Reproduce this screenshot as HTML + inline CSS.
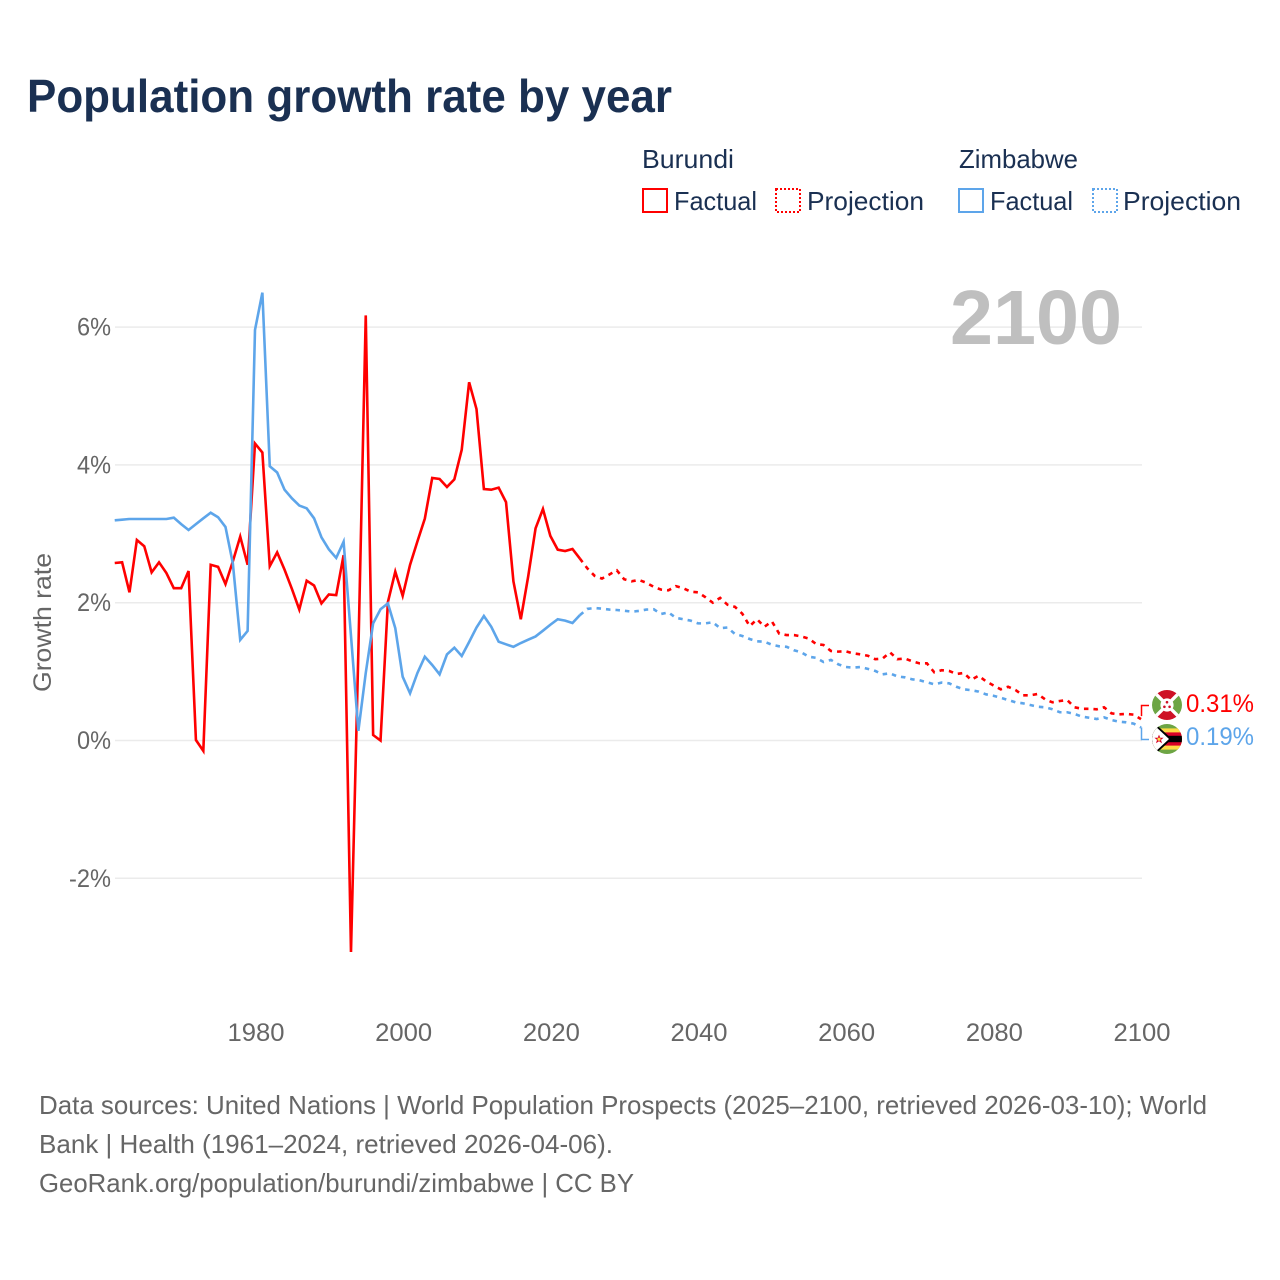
<!DOCTYPE html>
<html lang="en">
<head>
<meta charset="utf-8">
<title>Population growth rate by year</title>
<style>
html,body{margin:0;padding:0;background:#fff;}
svg{display:block;font-family:"Liberation Sans",sans-serif;}
</style>
</head>
<body>
<svg id="chart" xmlns="http://www.w3.org/2000/svg" width="1280" height="1280" viewBox="0 0 1280 1280">
  <rect width="1280" height="1280" fill="#fff"/>
  <text x="27" y="112" font-size="46" font-weight="700" fill="#1a3052" textLength="645" lengthAdjust="spacingAndGlyphs">Population growth rate by year</text>

  <g font-size="26" fill="#1a3052">
    <text x="642" y="168" textLength="92" lengthAdjust="spacingAndGlyphs">Burundi</text>
    <rect x="643" y="189" width="24" height="23" fill="none" stroke="#ff0000" stroke-width="2"/>
    <text x="674" y="210" textLength="83" lengthAdjust="spacingAndGlyphs">Factual</text>
    <rect x="776" y="189" width="24" height="23" fill="none" stroke="#ff0000" stroke-width="2" stroke-dasharray="2 2"/>
    <text x="807" y="210" textLength="117" lengthAdjust="spacingAndGlyphs">Projection</text>
    <text x="959" y="168" textLength="119" lengthAdjust="spacingAndGlyphs">Zimbabwe</text>
    <rect x="959" y="189" width="24" height="23" fill="none" stroke="#5da5ea" stroke-width="2"/>
    <text x="990" y="210" textLength="83" lengthAdjust="spacingAndGlyphs">Factual</text>
    <rect x="1093" y="189" width="24" height="23" fill="none" stroke="#5da5ea" stroke-width="2" stroke-dasharray="2 2"/>
    <text x="1123" y="210" textLength="118" lengthAdjust="spacingAndGlyphs">Projection</text>
  </g>

  <g id="grid"></g>
  <g id="ytick-labels" font-size="25" fill="#666"></g>
  <g id="xtick-labels" font-size="25" fill="#666"></g>
  <text transform="translate(51,692) rotate(-90)" font-size="25" fill="#666" textLength="139" lengthAdjust="spacingAndGlyphs">Growth rate</text>
  <text x="1122" y="344" text-anchor="end" font-size="77" font-weight="700" fill="#bfbfbf" textLength="172" lengthAdjust="spacingAndGlyphs">2100</text>

  <g id="series" fill="none" stroke-width="2.6"></g>

  <g id="connectors" fill="none" stroke-width="1.5"></g>

  <g transform="translate(1167,705)">
    <circle r="15" fill="#fff"/>
    <path d="M-10.6,-10.6 A15,15 0 0 1 10.6,-10.6 L0,0 Z" fill="#ce1126"/>
    <path d="M-10.6,10.6 A15,15 0 0 0 10.6,10.6 L0,0 Z" fill="#ce1126"/>
    <path d="M-10.6,-10.6 A15,15 0 0 0 -10.6,10.6 L0,0 Z" fill="#6da544"/>
    <path d="M10.6,-10.6 A15,15 0 0 1 10.6,10.6 L0,0 Z" fill="#6da544"/>
    <path d="M-10.6,-10.6 L10.6,10.6 M10.6,-10.6 L-10.6,10.6" stroke="#fff" stroke-width="3.4"/>
    <circle r="6.6" fill="#fff"/>
    <circle cx="0" cy="-2.8" r="1.3" fill="#ce1126"/>
    <circle cx="-2.6" cy="1.8" r="1.3" fill="#ce1126"/>
    <circle cx="2.6" cy="1.8" r="1.3" fill="#ce1126"/>
  </g>
  <g transform="translate(1167,739)">
    <clipPath id="zw-clip"><circle r="15"/></clipPath>
    <g clip-path="url(#zw-clip)">
      <rect x="-15" y="-15" width="30" height="30" fill="#6da544"/>
      <rect x="-15" y="-10.6" width="30" height="21.2" fill="#ffda44"/>
      <rect x="-15" y="-6.6" width="30" height="13.2" fill="#d80027"/>
      <rect x="-15" y="-3.2" width="30" height="6.4" fill="#000"/>
      <path d="M-15,-15 L-11.5,-15 L5,0 L-11.5,15 L-15,15 Z" fill="#000"/>
      <path d="M-15,-14 L-13,-14 L2,0 L-13,14 L-15,14 Z" fill="#fff"/>
      <path d="M-8,-4.4 L-6.7,-1.2 L-3.4,-1.2 L-6,0.9 L-5,4.2 L-8,2.2 L-11,4.2 L-10,0.9 L-12.6,-1.2 L-9.3,-1.2 Z" fill="#d80027"/>
      <circle cx="-8" cy="0.2" r="1.6" fill="#ffda44"/>
    </g>
  </g>

  <g id="end-labels" font-size="25"></g>

  <g font-size="26" fill="#666">
    <text x="39" y="1114" textLength="1168" lengthAdjust="spacingAndGlyphs">Data sources: United Nations | World Population Prospects (2025–2100, retrieved 2026-03-10); World</text>
    <text x="39" y="1153" textLength="574" lengthAdjust="spacingAndGlyphs">Bank | Health (1961–2024, retrieved 2026-04-06).</text>
    <text x="39" y="1192" textLength="595" lengthAdjust="spacingAndGlyphs">GeoRank.org/population/burundi/zimbabwe | CC BY</text>
  </g>
</svg>

<script>
const factualYears = [1961,1962,1963,1964,1965,1966,1967,1968,1969,1970,1971,1972,1973,1974,1975,1976,1977,1978,1979,1980,1981,1982,1983,1984,1985,1986,1987,1988,1989,1990,1991,1992,1993,1994,1995,1996,1997,1998,1999,2000,2001,2002,2003,2004,2005,2006,2007,2008,2009,2010,2011,2012,2013,2014,2015,2016,2017,2018,2019,2020,2021,2022,2023,2024];
const projectionYears = [2024,2025,2026,2027,2028,2029,2030,2031,2032,2033,2034,2035,2036,2037,2038,2039,2040,2041,2042,2043,2044,2045,2046,2047,2048,2049,2050,2051,2052,2053,2054,2055,2056,2057,2058,2059,2060,2061,2062,2063,2064,2065,2066,2067,2068,2069,2070,2071,2072,2073,2074,2075,2076,2077,2078,2079,2080,2081,2082,2083,2084,2085,2086,2087,2088,2089,2090,2091,2092,2093,2094,2095,2096,2097,2098,2099,2100];
const burundiFactual = [2.576,2.586,2.15,2.91,2.82,2.44,2.586,2.43,2.21,2.21,2.46,0.007,-0.15,2.55,2.52,2.27,2.6,2.96,2.55,4.31,4.18,2.53,2.73,2.48,2.2,1.9,2.32,2.25,1.99,2.12,2.11,2.69,-3.07,1.3,6.17,0.08,0.0,2.01,2.45,2.1,2.55,2.89,3.22,3.81,3.795,3.68,3.79,4.22,5.2,4.81,3.65,3.64,3.67,3.46,2.31,1.76,2.38,3.08,3.36,2.97,2.77,2.75,2.78,2.64];
const burundiProjection = [2.64,2.5,2.39,2.35,2.41,2.47,2.34,2.31,2.33,2.29,2.23,2.19,2.18,2.24,2.21,2.16,2.15,2.08,2.0,2.07,1.97,1.94,1.84,1.66,1.76,1.65,1.73,1.55,1.53,1.53,1.51,1.48,1.4,1.386,1.3,1.29,1.295,1.265,1.25,1.23,1.18,1.19,1.28,1.18,1.19,1.15,1.12,1.12,0.99,1.02,1.01,0.965,0.98,0.88,0.94,0.86,0.8,0.743,0.78,0.733,0.656,0.656,0.675,0.598,0.554,0.573,0.588,0.482,0.46,0.46,0.453,0.482,0.394,0.38,0.385,0.375,0.31];
const zimbabweFactual = [3.196,3.205,3.215,3.215,3.215,3.215,3.215,3.215,3.234,3.14,3.055,3.14,3.225,3.306,3.24,3.1,2.57,1.46,1.59,5.96,6.5,3.98,3.89,3.64,3.515,3.41,3.37,3.225,2.95,2.775,2.65,2.885,1.52,0.14,0.98,1.7,1.905,1.99,1.63,0.926,0.685,0.98,1.216,1.096,0.96,1.25,1.347,1.226,1.43,1.64,1.807,1.65,1.434,1.396,1.36,1.415,1.463,1.51,1.594,1.68,1.76,1.74,1.705,1.82];
const zimbabweProjection = [1.82,1.91,1.923,1.913,1.9,1.894,1.884,1.87,1.88,1.9,1.905,1.836,1.86,1.78,1.76,1.74,1.7,1.7,1.716,1.63,1.64,1.546,1.517,1.473,1.44,1.434,1.39,1.367,1.36,1.31,1.28,1.216,1.2,1.14,1.17,1.106,1.067,1.057,1.067,1.04,1.01,0.96,0.975,0.93,0.917,0.888,0.874,0.845,0.815,0.84,0.83,0.78,0.743,0.73,0.71,0.67,0.65,0.62,0.588,0.554,0.54,0.515,0.49,0.482,0.453,0.41,0.41,0.385,0.346,0.33,0.312,0.336,0.298,0.273,0.264,0.245,0.19];
const xTickLabels = [1980,2000,2020,2040,2060,2080,2100];
const yTickLabels = [-2,0,2,4,6];

const RED = '#ff0000';
const BLUE = '#5da5ea';
const NS = 'http://www.w3.org/2000/svg';

function xScale(year) { return 255 + (year - 1980) * (886 / 120); }
function yScale(value) { return 740.5 - value * 68.9; }
function pathFrom(years, values) {
  return values.map(function (v, i) {
    return (i ? 'L' : 'M') + xScale(years[i]).toFixed(2) + ',' + yScale(v).toFixed(2);
  }).join(' ');
}

const gridGroup = document.getElementById('grid');
const yLabelGroup = document.getElementById('ytick-labels');
const xLabelGroup = document.getElementById('xtick-labels');
const seriesGroup = document.getElementById('series');
const connectorGroup = document.getElementById('connectors');
const endLabelGroup = document.getElementById('end-labels');

yTickLabels.forEach(function (tick) {
  const line = document.createElementNS(NS, 'line');
  
  
  line.setAttribute('x1', 115);
  line.setAttribute('x2', 1142);
  line.setAttribute('y1', yScale(tick));
  line.setAttribute('y2', yScale(tick));
  line.setAttribute('stroke', '#ebebeb');
  line.setAttribute('stroke-width', '1.5');
  gridGroup.appendChild(line);

  const label = document.createElementNS(NS, 'text');
  
  
  label.setAttribute('x', 111);
  label.setAttribute('y', yScale(tick) + 8.5);
  label.setAttribute('text-anchor', 'end');
  label.setAttribute('textLength', tick < 0 ? '42' : '34');
  label.setAttribute('lengthAdjust', 'spacingAndGlyphs');
  label.textContent = tick + '%';
  yLabelGroup.appendChild(label);
});

xTickLabels.forEach(function (tick) {
  const label = document.createElementNS(NS, 'text');
  
  
  label.setAttribute('x', xScale(tick) + 1);
  label.setAttribute('y', 1041);
  label.setAttribute('text-anchor', 'middle');
  label.setAttribute('textLength', '57');
  label.setAttribute('lengthAdjust', 'spacingAndGlyphs');
  label.textContent = tick;
  xLabelGroup.appendChild(label);
});

const burundiFactualLine = document.createElementNS(NS, 'path');


burundiFactualLine.setAttribute('d', pathFrom(factualYears, burundiFactual));
burundiFactualLine.setAttribute('stroke', RED);

const zimbabweFactualLine = document.createElementNS(NS, 'path');


zimbabweFactualLine.setAttribute('d', pathFrom(factualYears, zimbabweFactual));
zimbabweFactualLine.setAttribute('stroke', BLUE);

const burundiProjectionLine = document.createElementNS(NS, 'path');


burundiProjectionLine.setAttribute('d', pathFrom(projectionYears, burundiProjection));
burundiProjectionLine.setAttribute('stroke', RED);
burundiProjectionLine.setAttribute('stroke-dasharray', '4.5 5');

const zimbabweProjectionLine = document.createElementNS(NS, 'path');


zimbabweProjectionLine.setAttribute('d', pathFrom(projectionYears, zimbabweProjection));
zimbabweProjectionLine.setAttribute('stroke', BLUE);
zimbabweProjectionLine.setAttribute('stroke-dasharray', '4.5 5');

seriesGroup.appendChild(zimbabweProjectionLine);
seriesGroup.appendChild(burundiProjectionLine);
seriesGroup.appendChild(burundiFactualLine);
seriesGroup.appendChild(zimbabweFactualLine);

const burundiLast = burundiProjection[burundiProjection.length - 1];
const zimbabweLast = zimbabweProjection[zimbabweProjection.length - 1];

const burundiConnector = document.createElementNS(NS, 'path');


burundiConnector.setAttribute('d', 'M1141.5,' + (yScale(burundiLast) - 3).toFixed(1) + ' V705.5 H1149');
burundiConnector.setAttribute('stroke', RED);
connectorGroup.appendChild(burundiConnector);

const zimbabweConnector = document.createElementNS(NS, 'path');


zimbabweConnector.setAttribute('d', 'M1141.5,' + yScale(zimbabweLast).toFixed(1) + ' V739.5 H1149');
zimbabweConnector.setAttribute('stroke', BLUE);
connectorGroup.appendChild(zimbabweConnector);

const burundiEndLabel = document.createElementNS(NS, 'text');


burundiEndLabel.setAttribute('x', 1186);
burundiEndLabel.setAttribute('y', 712);
burundiEndLabel.setAttribute('fill', RED);
burundiEndLabel.setAttribute('textLength', '68');
burundiEndLabel.setAttribute('lengthAdjust', 'spacingAndGlyphs');
burundiEndLabel.textContent = burundiLast.toFixed(2) + '%';
endLabelGroup.appendChild(burundiEndLabel);

const zimbabweEndLabel = document.createElementNS(NS, 'text');


zimbabweEndLabel.setAttribute('x', 1186);
zimbabweEndLabel.setAttribute('y', 745);
zimbabweEndLabel.setAttribute('fill', BLUE);
zimbabweEndLabel.setAttribute('textLength', '68');
zimbabweEndLabel.setAttribute('lengthAdjust', 'spacingAndGlyphs');
zimbabweEndLabel.textContent = zimbabweLast.toFixed(2) + '%';
endLabelGroup.appendChild(zimbabweEndLabel);
</script>
</body>
</html>
